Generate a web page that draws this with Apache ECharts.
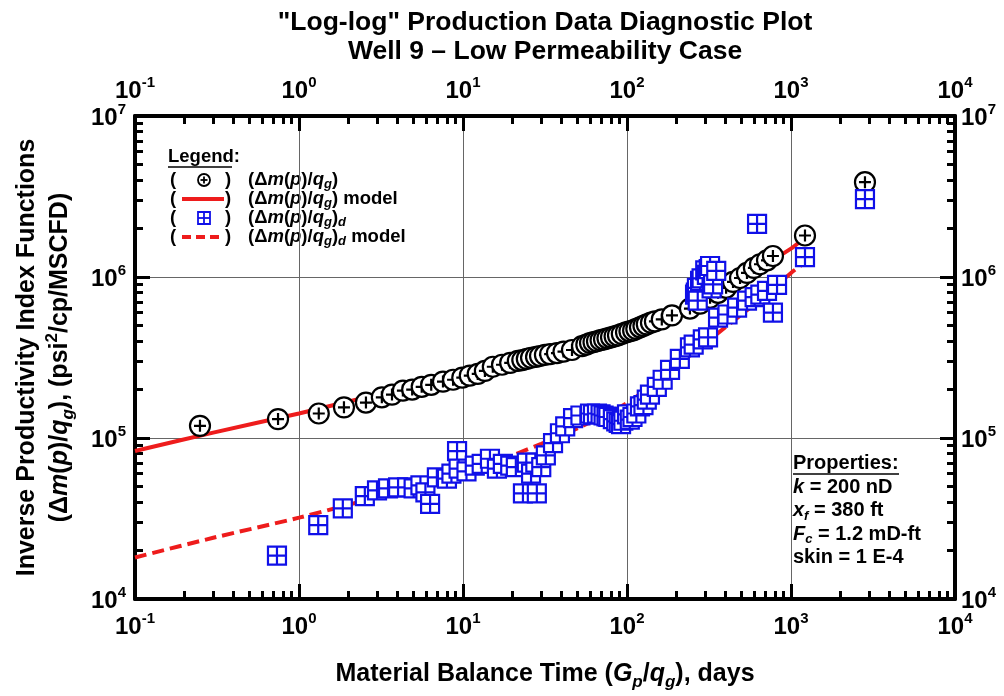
<!DOCTYPE html>
<html>
<head>
<meta charset="utf-8">
<script src="https://cdn.jsdelivr.net/npm/echarts@6/dist/echarts.min.js"></script>
<style>
  html, body { margin: 0; padding: 0; background: #fff; }
  #chart { width: 1004px; height: 696px; }
</style>
</head>
<body>
<div id="chart"></div>
<script>
// Decade tick positions for both log axes
const xDecades = [0.1, 1, 10, 100, 1000, 10000];
const yDecades = [1e4, 1e5, 1e6, 1e7];

// (Δm(p)/qg) data: material balance time (days) and value
const circleTime = [0.249, 0.745, 1.32, 1.88, 2.56, 3.2, 3.69, 4.3, 4.9, 5.6, 6.4, 7.55, 8.7, 9.9, 11.0, 12.3, 13.6, 15.2, 17.3, 19.4, 21.6, 23.0, 24.5, 26.0, 27.9, 29.5, 31.6, 34.0, 37.4, 41.0, 46.2, 53.2, 56.5, 59.5, 62.5, 65.6, 69.0, 72.4, 76.0, 79.9, 84.0, 88.1, 93.0, 98.6, 103.5, 109, 114, 120, 126, 132, 140, 148, 163, 188, 242, 279, 321, 359, 402, 443, 489, 539, 594, 647, 714, 776, 1217, 2825];
const circleDmq  = [1.19e5, 1.31e5, 1.42e5, 1.55e5, 1.66e5, 1.79e5, 1.86e5, 1.97e5, 2.0e5, 2.08e5, 2.14e5, 2.24e5, 2.3e5, 2.37e5, 2.44e5, 2.5e5, 2.61e5, 2.77e5, 2.85e5, 2.93e5, 3.01e5, 3.05e5, 3.1e5, 3.15e5, 3.19e5, 3.23e5, 3.28e5, 3.32e5, 3.37e5, 3.44e5, 3.52e5, 3.72e5, 3.8e5, 3.89e5, 3.94e5, 3.99e5, 4.05e5, 4.1e5, 4.16e5, 4.22e5, 4.28e5, 4.34e5, 4.43e5, 4.53e5, 4.6e5, 4.66e5, 4.76e5, 4.87e5, 4.97e5, 5.08e5, 5.2e5, 5.3e5, 5.45e5, 5.77e5, 6.37e5, 6.83e5, 7.43e5, 7.98e5, 8.57e5, 9.32e5, 9.86e5, 1.06e6, 1.14e6, 1.2e6, 1.27e6, 1.35e6, 1.81e6, 3.88e6];

// (Δm(p)/qg)d data
const squareTime = [0.734, 1.31, 1.85, 2.52, 2.99, 3.49, 4.02, 4.56, 5.0, 5.5, 5.9, 6.3, 6.93, 7.98, 8.5, 9.2, 9.4, 10.5, 11.8, 13.0, 14.6, 16.1, 17.5, 19.4, 21.0, 23.2, 24.5, 26.0, 27.6, 28.2, 30.0, 32.0, 35.4, 39.0, 42.0, 46.9, 52.0, 59.5, 62.0, 65.6, 69.0, 72.0, 75.0, 77.0, 82.0, 86.0, 89.0, 92.0, 95.0, 100, 104, 108, 114, 120, 126, 132, 138, 152, 165, 183, 210, 242, 255, 260, 263, 267, 270, 279, 285, 290, 300, 307, 312, 315, 321, 328, 335, 350, 359, 410, 469, 539, 600, 621, 650, 714, 776, 822, 1217, 2825];
const squareDmqd = [1.86e4, 2.88e4, 3.66e4, 4.35e4, 4.73e4, 4.87e4, 4.93e4, 4.93e4, 4.87e4, 5.08e4, 4.6e4, 3.9e4, 5.69e4, 5.6e4, 6.0e4, 8.3e4, 6.46e4, 6.2e4, 6.73e4, 6.9e4, 7.43e4, 6.46e4, 6.9e4, 6.73e4, 6.6e4, 4.53e4, 7.03e4, 6.0e4, 7.03e4, 4.53e4, 6.6e4, 7.8e4, 9.3e4, 1.07e5, 1.18e5, 1.33e5, 1.38e5, 1.42e5, 1.4e5, 1.42e5, 1.4e5, 1.38e5, 1.36e5, 1.35e5, 1.31e5, 1.27e5, 1.24e5, 1.22e5, 1.28e5, 1.4e5, 1.3e5, 1.35e5, 1.42e5, 1.57e5, 1.6e5, 1.73e5, 1.86e5, 2.08e5, 2.3e5, 2.65e5, 3.1e5, 3.66e5, 3.8e5, 7.77e5, 8.0e5, 8.57e5, 7.13e5, 9.45e5, 9.8e5, 4.1e5, 1.1e6, 1.03e6, 4.22e5, 1.12e6, 1.17e6, 8.5e5, 9.0e5, 1.09e6, 5.6e5, 5.85e5, 6.46e5, 7.13e5, 7.5e5, 2.14e6, 7.77e5, 8.2e5, 6.01e5, 8.93e5, 1.33e6, 3.05e6];

// Model curves
const modelTime = [0.1, 0.3, 1, 3, 10, 30, 60, 100, 200, 400, 700, 1000, 1150];
const modelDmq  = [8.3e4, 1.08e5, 1.42e5, 1.86e5, 2.45e5, 3.3e5, 3.95e5, 4.6e5, 5.9e5, 8.4e5, 1.2e6, 1.5e6, 1.68e6];
const modelDTime = [0.1, 0.3, 1, 3, 10, 20, 30, 50, 100, 200, 400, 700, 1000, 1150];
const modelDmqd  = [1.81e4, 2.4e4, 3.2e4, 4.3e4, 6.0e4, 7.8e4, 9.2e4, 1.15e5, 1.65e5, 2.8e5, 4.9e5, 7.7e5, 1.06e6, 1.18e6];

const FONT = '"Liberation Sans", Arial, Helvetica, sans-serif';
const RED = '#ee1c1c';
const BLUE = '#1010e8';

const zip = (a, b) => a.map((v, i) => [v, b[i]]);

// 2..9 subdivisions inside each decade, for the minor tick marks
function minorValues(decades) {
  const out = [];
  for (let i = 0; i < decades.length - 1; i++) {
    for (let m = 2; m <= 9; m++) out.push(+(decades[i] * m).toPrecision(6));
  }
  return out;
}

const supRich = {
  b: { fontFamily: FONT, fontWeight: 'bold', fontSize: 24, color: '#000', lineHeight: 28, verticalAlign: 'bottom' },
  s: { fontFamily: FONT, fontWeight: 'bold', fontSize: 15, color: '#000', lineHeight: 15, verticalAlign: 'top' }
};
const decadeLabel = v => '{b|10}{s|' + Math.round(Math.log10(v)) + '}';

const frameLine = { show: true, onZero: false, lineStyle: { color: '#000', width: 4 } };

function majorAxis(position, decades, showSplit, margin, extra) {
  return Object.assign({
    type: 'log', logBase: 10, position: position, gridIndex: 0,
    min: decades[0], max: decades[decades.length - 1],
    axisLine: frameLine,
    axisTick: { show: true, inside: true, length: 15, lineStyle: { color: '#000', width: 3 }, customValues: decades },
    axisLabel: { show: true, margin: margin, formatter: decadeLabel, rich: supRich, customValues: decades },
    splitLine: { show: showSplit, lineStyle: { color: '#666', width: 1 } },
    minorTick: { show: false }
  }, extra || {});
}

function minorAxis(position, decades) {
  return {
    type: 'log', logBase: 10, position: position, gridIndex: 0,
    min: decades[0], max: decades[decades.length - 1],
    axisLine: { show: false, onZero: false },
    axisTick: { show: true, inside: true, length: 8, lineStyle: { color: '#000', width: 3 }, customValues: minorValues(decades) },
    axisLabel: { show: false },
    splitLine: { show: false }
  };
}

const nameRich = {
  t:  { fontFamily: FONT, fontWeight: 'bold', fontSize: 25, color: '#000', lineHeight: 33, verticalAlign: 'middle' },
  i:  { fontFamily: FONT, fontWeight: 'bold', fontStyle: 'italic', fontSize: 25, color: '#000', lineHeight: 33, verticalAlign: 'middle' },
  is: { fontFamily: FONT, fontWeight: 'bold', fontStyle: 'italic', fontSize: 17, color: '#000', lineHeight: 27, verticalAlign: 'bottom' },
  sup:{ fontFamily: FONT, fontWeight: 'bold', fontSize: 17, color: '#000', lineHeight: 25, verticalAlign: 'top' }
};

const LF = 18.5;
const legendRich = {
  t:  { fontFamily: FONT, fontWeight: 'bold', fontSize: LF, color: '#000', lineHeight: 22, verticalAlign: 'middle' },
  i:  { fontFamily: FONT, fontWeight: 'bold', fontStyle: 'italic', fontSize: LF, color: '#000', lineHeight: 22, verticalAlign: 'middle' },
  is: { fontFamily: FONT, fontWeight: 'bold', fontStyle: 'italic', fontSize: 13, color: '#000', lineHeight: 19, verticalAlign: 'bottom' }
};
const dmq = '{t|(Δ}{i|m}{t|(}{i|p}{t|)/}{i|q}{is|g}{t|)}';
const legendRows = [
  { y: 180, text: dmq, mark: 'circle' },
  { y: 199, text: dmq + '{t| model}', mark: 'solid' },
  { y: 218, text: dmq + '{is|d}', mark: 'square' },
  { y: 237, text: dmq + '{is|d}{t| model}', mark: 'dashed' }
];

function legendMark(kind, y) {
  const cx = 204;
  if (kind === 'circle') {
    return [
      { type: 'circle', shape: { cx: cx, cy: y, r: 6 }, style: { fill: '#fff', stroke: '#000', lineWidth: 1.8 } },
      { type: 'line', shape: { x1: cx - 3.5, y1: y, x2: cx + 3.5, y2: y }, style: { stroke: '#000', lineWidth: 1.8 } },
      { type: 'line', shape: { x1: cx, y1: y - 3.5, x2: cx, y2: y + 3.5 }, style: { stroke: '#000', lineWidth: 1.8 } }
    ];
  }
  if (kind === 'square') {
    return [
      { type: 'rect', shape: { x: cx - 6, y: y - 6, width: 12, height: 12 }, style: { fill: '#fff', stroke: BLUE, lineWidth: 1.8 } },
      { type: 'line', shape: { x1: cx - 6, y1: y, x2: cx + 6, y2: y }, style: { stroke: BLUE, lineWidth: 1.8 } },
      { type: 'line', shape: { x1: cx, y1: y - 6, x2: cx, y2: y + 6 }, style: { stroke: BLUE, lineWidth: 1.8 } }
    ];
  }
  return [{ type: 'line', shape: { x1: 182, y1: y, x2: 224, y2: y },
            style: { stroke: RED, lineWidth: 4, lineDash: kind === 'dashed' ? [9, 5] : null } }];
}

const graphics = [];
graphics.push({ type: 'text', x: 168, y: 157, style: { text: 'Legend:', font: 'bold ' + LF + 'px ' + FONT, fill: '#000', verticalAlign: 'middle' } });
graphics.push({ type: 'line', shape: { x1: 168, y1: 167, x2: 232, y2: 167 }, style: { stroke: '#000', lineWidth: 1.5 } });
legendRows.forEach(r => {
  graphics.push({ type: 'text', x: 170, y: r.y, style: { text: '(', font: 'bold ' + LF + 'px ' + FONT, fill: '#000', verticalAlign: 'middle' } });
  graphics.push({ type: 'text', x: 225, y: r.y, style: { text: ')', font: 'bold ' + LF + 'px ' + FONT, fill: '#000', verticalAlign: 'middle' } });
  legendMark(r.mark, r.y).forEach(g => graphics.push(g));
  graphics.push({ type: 'text', x: 248, y: r.y, style: { text: r.text, rich: legendRich, verticalAlign: 'middle' } });
});

const propRich = {
  t:  { fontFamily: FONT, fontWeight: 'bold', fontSize: 20, color: '#000', lineHeight: 23.5, verticalAlign: 'middle' },
  i:  { fontFamily: FONT, fontWeight: 'bold', fontStyle: 'italic', fontSize: 20, color: '#000', lineHeight: 23.5, verticalAlign: 'middle' },
  is: { fontFamily: FONT, fontWeight: 'bold', fontStyle: 'italic', fontSize: 13, color: '#000', lineHeight: 20, verticalAlign: 'bottom' }
};
graphics.push({ type: 'text', x: 793, y: 452, style: {
  text: '{t|Properties:}\n{i|k}{t| = 200 nD}\n{i|x}{is|f}{t| = 380 ft}\n{i|F}{is|c}{t| = 1.2 mD-ft}\n{t|skin = 1 E-4}',
  rich: propRich, verticalAlign: 'top' } });
graphics.push({ type: 'line', shape: { x1: 793, y1: 474, x2: 899, y2: 474 }, style: { stroke: '#000', lineWidth: 1.5 } });

const circleSymbol = 'path://M10,0 A10,10 0 1 1 -10,0 A10,10 0 1 1 10,0 Z M-6,0 L6,0 M0,-6 L0,6';
const squareSymbol = 'path://M-10,-10 L10,-10 L10,10 L-10,10 Z M0,-10 L0,10 M-10,0 L10,0';

const option = {
  backgroundColor: '#fff',
  animation: false,
  title: {
    text: '"Log-log" Production Data Diagnostic Plot\nWell 9 – Low Permeability Case',
    left: 540, top: 3, textAlign: 'center',
    textStyle: { fontFamily: FONT, fontWeight: 'bold', fontSize: 26.5, lineHeight: 29, color: '#000' }
  },
  grid: { left: 135, top: 116, width: 820, height: 489, containLabel: false },
  xAxis: [
    majorAxis('bottom', xDecades, true, 12, {
      name: '{t|Material Balance Time (}{i|G}{is|p}{t|/}{i|q}{is|g}{t|), days}',
      nameLocation: 'middle', nameGap: 59,
      nameTextStyle: { rich: nameRich }
    }),
    majorAxis('top', xDecades, false, 13),
    minorAxis('bottom', xDecades),
    minorAxis('top', xDecades)
  ],
  yAxis: [
    majorAxis('left', yDecades, true, 9, {
      name: '{t|Inverse Productivity Index Functions}\n{t|(Δ}{i|m}{t|(}{i|p}{t|)/}{i|q}{is|g}{t|), (psi}{sup|2}{t|/cp/MSCFD)}',
      nameLocation: 'middle', nameGap: 58, nameRotate: 90,
      nameTextStyle: { rich: nameRich }
    }),
    majorAxis('right', yDecades, false, 6),
    minorAxis('left', yDecades),
    minorAxis('right', yDecades)
  ],
  graphic: graphics,
  series: [
    {
      name: '(Δm(p)/qg) model', type: 'line', xAxisIndex: 0, yAxisIndex: 0,
      data: zip(modelTime, modelDmq), showSymbol: false, smooth: 0.3,
      lineStyle: { color: RED, width: 4 }, z: 2
    },
    {
      name: '(Δm(p)/qg)d model', type: 'line', xAxisIndex: 0, yAxisIndex: 0,
      data: zip(modelDTime, modelDmqd), showSymbol: false, smooth: 0.3,
      lineStyle: { color: RED, width: 4, type: [12, 6] }, z: 2
    },
    {
      name: '(Δm(p)/qg)', type: 'scatter', xAxisIndex: 0, yAxisIndex: 0,
      data: zip(circleTime, circleDmq), symbol: circleSymbol, symbolSize: 20,
      itemStyle: { color: '#fff', borderColor: '#000', borderWidth: 2.2, opacity: 1 }, z: 3
    },
    {
      name: '(Δm(p)/qg)d', type: 'scatter', xAxisIndex: 0, yAxisIndex: 0,
      data: zip(squareTime, squareDmqd), symbol: squareSymbol, symbolSize: 18,
      itemStyle: { color: '#fff', borderColor: BLUE, borderWidth: 2.2, opacity: 1 }, z: 4
    }
  ]
};

const chart = echarts.init(document.getElementById('chart'), null, { renderer: 'canvas' });
chart.setOption(option);
</script>
</body>
</html>
